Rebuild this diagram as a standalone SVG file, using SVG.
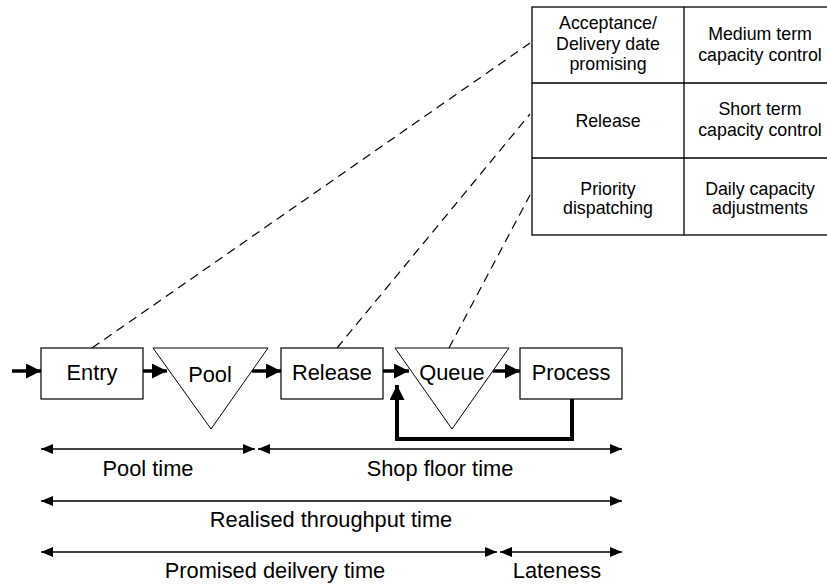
<svg xmlns="http://www.w3.org/2000/svg" width="827" height="584" viewBox="0 0 827 584">
<style>
text{font-family:"Liberation Sans",Arial,sans-serif;fill:#000;text-anchor:middle}
.main{font-size:21.8px}
.tbl{font-size:17.8px}
.box{fill:#fff;stroke:#000;stroke-width:1.2}
.tri{fill:#fff;stroke:#000;stroke-width:1}
.flow{fill:none;stroke:#000;stroke-width:3.5}
.fb{fill:none;stroke:#000;stroke-width:4}
.dim{fill:none;stroke:#000;stroke-width:1.5}
.dash{fill:none;stroke:#000;stroke-width:1.2;stroke-dasharray:9,6}
</style>
<defs>
<marker id="big" markerUnits="userSpaceOnUse" markerWidth="16" markerHeight="16" refX="15" refY="7.5" orient="auto">
<path d="M0,0 L15,7.5 L0,15 z" fill="#000"/>
</marker>
<marker id="sm" markerUnits="userSpaceOnUse" markerWidth="13" markerHeight="11" refX="12" refY="5" orient="auto-start-reverse">
<path d="M0,0 L12,5 L0,10 z" fill="#000"/>
</marker>
</defs>
<g id="table">
<rect x="532" y="7" width="310" height="228" fill="#fff" stroke="#000" stroke-width="1.3"/>
<line x1="684" y1="7" x2="684" y2="235" stroke="#000" stroke-width="1.3"/>
<line x1="532" y1="83" x2="842" y2="83" stroke="#000" stroke-width="1.3"/>
<line x1="532" y1="158" x2="842" y2="158" stroke="#000" stroke-width="1.3"/>
<text class="tbl" x="608" y="29">Acceptance/</text>
<text class="tbl" x="608" y="50">Delivery date</text>
<text class="tbl" x="608" y="70">promising</text>
<text class="tbl" x="760" y="40">Medium term</text>
<text class="tbl" x="760" y="61">capacity control</text>
<text class="tbl" x="608" y="127">Release</text>
<text class="tbl" x="760" y="115">Short term</text>
<text class="tbl" x="760" y="136">capacity control</text>
<text class="tbl" x="608" y="195">Priority</text>
<text class="tbl" x="608" y="214">dispatching</text>
<text class="tbl" x="760" y="195">Daily capacity</text>
<text class="tbl" x="760" y="214">adjustments</text>
</g>
<g id="connectors">
<line class="dash" x1="92" y1="348" x2="530" y2="43"/>
<line class="dash" x1="337" y1="348" x2="530" y2="114"/>
<line class="dash" x1="449" y1="348" x2="530" y2="195"/>
<line class="flow" x1="12" y1="371" x2="41" y2="371" marker-end="url(#big)"/>
<line class="flow" x1="143" y1="371" x2="167" y2="371" marker-end="url(#big)"/>
<line class="flow" x1="252" y1="371" x2="281" y2="371" marker-end="url(#big)"/>
<line class="flow" x1="383" y1="371" x2="409" y2="371" marker-end="url(#big)"/>
<line class="flow" x1="493" y1="371" x2="520" y2="371" marker-end="url(#big)"/>
<polyline class="fb" points="572,399 572,439 397,439 397,385" marker-end="url(#big)"/>
</g>
<g id="entry"><rect class="box" x="41" y="348" width="102" height="51"/><text class="main" x="92" y="380">Entry</text></g>
<g id="pool"><polygon class="tri" points="153,348 268,348 211,429"/><text class="main" x="210" y="382">Pool</text></g>
<g id="release"><rect class="box" x="281" y="348" width="102" height="51"/><text class="main" x="332" y="380">Release</text></g>
<g id="queue"><polygon class="tri" points="395,348 509,348 452,429"/><text class="main" x="452" y="380">Queue</text></g>
<g id="process"><rect class="box" x="520" y="348" width="102" height="51"/><text class="main" x="571" y="380">Process</text></g>
<g id="dimensions">
<line class="dim" x1="41" y1="449" x2="255" y2="449" marker-start="url(#sm)" marker-end="url(#sm)"/>
<line class="dim" x1="258" y1="449" x2="622" y2="449" marker-start="url(#sm)" marker-end="url(#sm)"/>
<line class="dim" x1="41" y1="501" x2="622" y2="501" marker-start="url(#sm)" marker-end="url(#sm)"/>
<line class="dim" x1="41" y1="552" x2="497" y2="552" marker-start="url(#sm)" marker-end="url(#sm)"/>
<line class="dim" x1="500" y1="552" x2="622" y2="552" marker-start="url(#sm)" marker-end="url(#sm)"/>
<text class="main" x="148" y="476">Pool time</text>
<text class="main" x="440" y="476">Shop floor time</text>
<text class="main" x="331" y="527">Realised throughput time</text>
<text class="main" x="275" y="578">Promised deilvery time</text>
<text class="main" x="557" y="578">Lateness</text>
</g>
</svg>
